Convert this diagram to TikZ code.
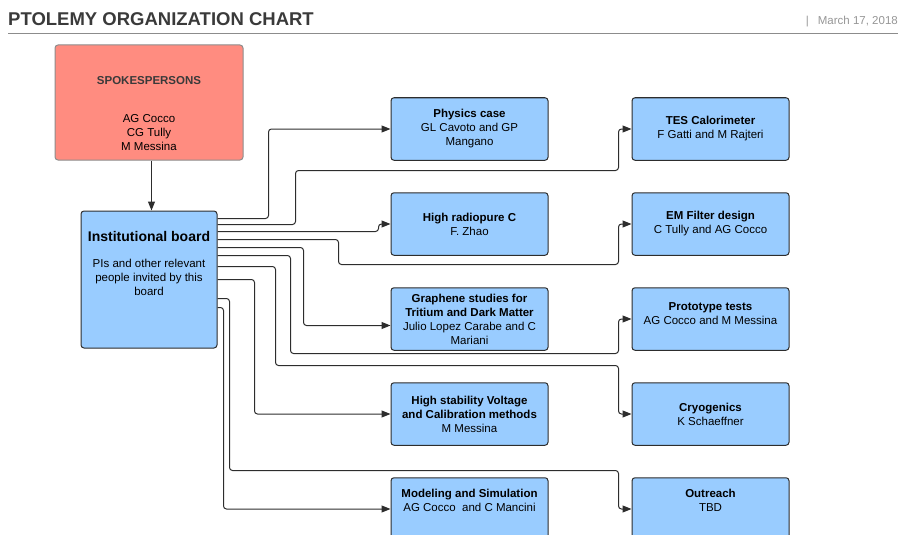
\documentclass[tikz,border=0pt]{standalone}
\usepackage{fontspec}
\setmainfont{Liberation Sans}
\usepackage{xcolor}
\usetikzlibrary{arrows.meta, positioning}
\definecolor{boxblue}{RGB}{153, 204, 255}
\definecolor{spokesred}{RGB}{255, 140, 128}
\definecolor{edgegray}{RGB}{45, 45, 45}
\definecolor{headgray}{RGB}{58, 58, 58}
\definecolor{rulegray}{RGB}{140, 140, 140}
\definecolor{dategray}{RGB}{150, 150, 150}
\newcommand{\chartfont}{\fontsize{11.5}{14}\selectfont}
\tikzstyle{spokesbox} = [rectangle, rounded corners=3pt, minimum width=188pt, minimum height=115pt, align=center, line width=1pt, draw=rulegray, fill=spokesred, font=\chartfont]
\tikzstyle{boardbox} = [rectangle, rounded corners=3pt, minimum width=136pt, minimum height=137pt, align=center, line width=1pt, draw=edgegray, fill=boxblue, font=\chartfont]
\tikzstyle{groupbox} = [rectangle, rounded corners=3pt, minimum width=157pt, minimum height=62.5pt, align=center, line width=1pt, draw=edgegray, fill=boxblue, font=\chartfont]
\tikzstyle{arrow} = [edgegray, line width=1pt, rounded corners=3pt, ->, >={Triangle[length=9pt, width=7pt]}]

\begin{document}
\begin{tikzpicture}[x=1pt, y=-1pt, node distance=31.5pt]
      \useasboundingbox (0,0) rectangle (900,535);
      \clip (0,0) rectangle (900,535);

      % header
      \node[anchor=base west, inner sep=0pt, text=headgray, font=\fontsize{18.5}{22}\selectfont\bfseries] (title) at (8,26) {PTOLEMY ORGANIZATION CHART};
      \node[anchor=base east, inner sep=0pt, text=dategray, font=\chartfont] (date) at (898,25) {|\hspace{9pt}March 17, 2018};
      \draw[rulegray, line width=1pt] (8,34) -- (898,34);

      \node[spokesbox] (spokes) at (149,102.5) {\mbox{}\\[17pt]{\color{headgray}\textbf{SPOKESPERSONS}}\\[24pt]AG Cocco\\CG Tully\\M Messina};
      \node[boardbox, below=50pt of spokes] (board) {{\fontsize{14}{17}\selectfont\bfseries Institutional board}\\[12pt]PIs and other relevant\\people invited by this\\board\\[19pt]\mbox{}};

      \node[groupbox] (physics) at (469.5,129) {\textbf{Physics case}\\GL Cavoto and GP\\Mangano};
      \node[groupbox, below=of physics] (radiopure) {\textbf{High radiopure C}\\F. Zhao};
      \node[groupbox, below=of radiopure] (graphene) {\textbf{Graphene studies for}\\\textbf{Tritium and Dark Matter}\\Julio Lopez Carabe and C\\Mariani};
      \node[groupbox, below=of graphene] (voltage) {\textbf{High stability Voltage}\\\textbf{and Calibration methods}\\M Messina};
      \node[groupbox, below=of voltage] (modeling) {\textbf{Modeling and Simulation}\\AG Cocco~ and C Mancini\\[4pt]\mbox{}};

      \node[groupbox, right=83pt of physics] (tes) {\textbf{TES Calorimeter}\\F Gatti and M Rajteri};
      \node[groupbox, below=of tes] (emfilter) {\textbf{EM Filter design}\\C Tully and AG Cocco};
      \node[groupbox, below=of emfilter] (prototype) {\textbf{Prototype tests}\\AG Cocco and M Messina\\[-4pt]\mbox{}};
      \node[groupbox, below=of prototype] (cryo) {\textbf{Cryogenics}\\K Schaeffner};
      \node[groupbox, below=of cryo] (outreach) {\textbf{Outreach}\\TBD\\[4pt]\mbox{}};

      \draw[arrow] ([xshift=2.5pt]spokes.south) -- ([xshift=2.5pt]board.north);

      % board to the groups
      \draw[arrow] ([yshift=-8pt]board.north east) -- ++(51,0) |- (physics.west);
      \draw[arrow] ([yshift=-14pt]board.north east) -- ++(78,0) -- ++(0,-54) -| ([xshift=-13pt]tes.west) -- (tes.west);
      \draw[arrow] ([yshift=-21pt]board.north east) -- ++(161,0) |- (radiopure.west);
      \draw[arrow] ([yshift=-29pt]board.north east) -- ++(121,0) -- ++(0,25) -| ([xshift=-13pt]emfilter.west) -- (emfilter.west);
      \draw[arrow] ([yshift=-37pt]board.north east) -- ++(86,0) |- ([yshift=-6.5pt]graphene.west);
      \draw[arrow] ([yshift=-45pt]board.north east) -- ++(73,0) -- ++(0,98) -| ([xshift=-13pt]prototype.west) -- (prototype.west);
      \draw[arrow] ([yshift=-56pt]board.north east) -- ++(58,0) -- ++(0,99) -| ([xshift=-13pt]cryo.west) -- (cryo.west);
      \draw[arrow] ([yshift=-69pt]board.north east) -- ++(37,0) |- (voltage.west);
      \draw[arrow] ([yshift=-88pt]board.north east) -- ++(12,0) -- ++(0,172) -| ([xshift=-13pt]outreach.west) -- (outreach.west);
      \draw[arrow] ([yshift=-97pt]board.north east) -- ++(6,0) |- (modeling.west);
\end{tikzpicture}
\end{document}
